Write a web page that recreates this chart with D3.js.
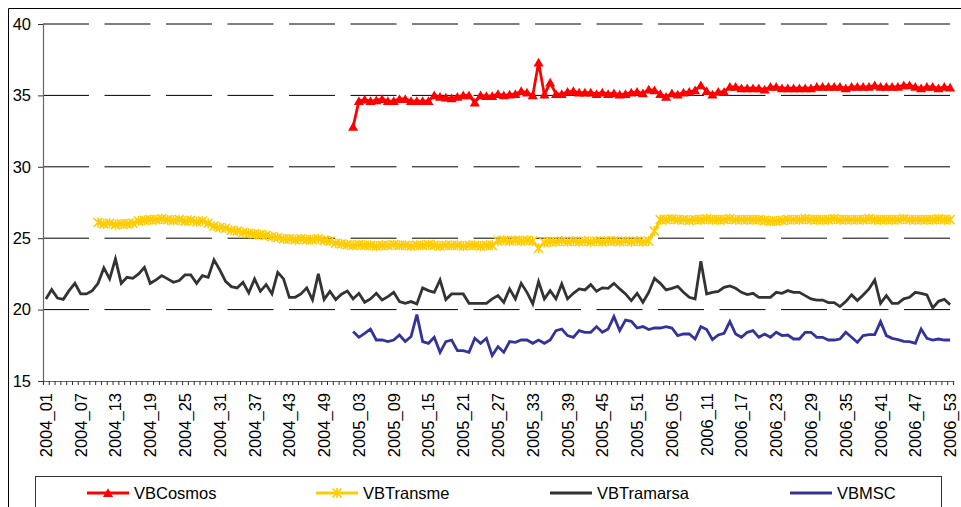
<!DOCTYPE html>
<html><head><meta charset="utf-8">
<script src="https://cdn.jsdelivr.net/npm/d3@7"></script>
<style>
html,body{margin:0;padding:0;background:#fff;}
svg text{font-family:"Liberation Sans",Arial,sans-serif;}
</style></head>
<body>
<svg id="chart" width="961" height="507"></svg>
<script>
// ---- data ----
const yearWeeks = [[2004, 52], [2005, 52], [2006, 53]];
const categories = [];
yearWeeks.forEach(([yr, n]) => { for (let w = 1; w <= n; w++) categories.push(yr + "_" + String(w).padStart(2, "0")); });

const tickLabels = ["2004_01","2004_07","2004_13","2004_19","2004_25","2004_31","2004_37","2004_43","2004_49",
  "2005_03","2005_09","2005_15","2005_21","2005_27","2005_33","2005_39","2005_45","2005_51",
  "2006_05","2006_11","2006_17","2006_23","2006_29","2006_35","2006_41","2006_47","2006_53"];

const yTicks = [15, 20, 25, 30, 35, 40];

const N9 = [null,null,null,null,null,null,null,null,null];
const N53 = Array(53).fill(null);

const VBCosmos = N53.concat([
  32.8,34.6,34.7,34.6,34.65,34.75,34.6,34.6,34.75,34.75,34.6,34.6,34.6,34.6,
  35.0,34.9,34.85,34.8,34.9,35.0,35.0,34.5,35.0,34.95,34.95,35.1,35.0,35.05,35.1,35.3,35.2,35.0,
  37.3,35.05,35.9,35.1,35.1,35.25,35.3,35.2,35.2,35.2,35.1,35.2,35.1,35.15,35.05,35.1,35.2,35.25,35.15,
  35.4,35.35,35.1,34.9,35.15,35.05,35.2,35.25,35.35,35.7,35.3,35.05,35.25,35.25,35.6,35.6,35.5,35.5,35.5,
  35.5,35.4,35.6,35.6,35.5,35.5,35.5,35.5,35.5,35.5,35.6,35.6,35.6,35.6,35.6,35.5,35.6,35.6,35.6,35.6,
  35.7,35.6,35.6,35.6,35.6,35.7,35.7,35.6,35.5,35.6,35.6,35.5,35.6,35.55]);

const VBTransme = N9.concat([
  26.1,26.0,26.05,25.95,26.0,26.0,26.05,26.2,26.25,26.3,26.3,26.35,26.3,26.25,26.3,26.2,26.25,26.15,26.2,
  26.05,25.85,25.75,25.7,25.55,25.5,25.4,25.35,25.3,25.25,25.2,25.1,25.05,24.95,24.95,24.9,24.95,24.9,24.9,24.95,
  24.85,24.8,24.65,24.6,24.55,24.5,24.55,24.5,24.5,24.45,24.5,24.5,24.55,24.5,24.5,24.45,24.5,24.5,24.55,24.5,
  24.45,24.5,24.5,24.5,24.45,24.5,24.5,24.45,24.5,24.5,24.8,24.85,24.8,24.85,24.8,24.85,24.8,24.3,24.7,24.75,
  24.75,24.8,24.75,24.8,24.75,24.8,24.75,24.8,24.75,24.8,24.8,24.75,24.8,24.75,24.8,24.75,24.8,25.5,26.3,
  26.3,26.35,26.3,26.3,26.25,26.3,26.3,26.35,26.3,26.3,26.3,26.35,26.3,26.3,26.3,26.3,26.3,26.25,26.2,26.2,
  26.25,26.3,26.3,26.3,26.35,26.3,26.3,26.3,26.3,26.35,26.3,26.3,26.3,26.3,26.3,26.35,26.3,26.3,26.3,26.3,
  26.3,26.35,26.3,26.3,26.3,26.3,26.3,26.35,26.3,26.3]);

const VBTramarsa = [
  20.74,21.40,20.81,20.72,21.33,21.84,21.10,21.10,21.33,21.84,22.92,22.15,23.55,21.84,22.26,22.19,22.50,22.96,
  21.84,22.08,22.38,22.15,21.91,22.03,22.43,22.43,21.84,22.38,22.26,23.48,22.78,21.98,21.61,21.52,21.91,21.17,
  22.15,21.28,21.75,21.10,22.61,22.15,20.86,20.86,21.10,21.52,20.68,22.50,20.72,21.28,20.70,21.08,21.30,
  20.75,21.14,20.51,20.75,21.14,20.67,20.91,21.21,20.56,20.44,20.56,20.40,21.52,21.33,21.21,22.08,20.70,21.10,
  21.10,21.10,20.44,20.44,20.44,20.44,20.75,20.98,20.51,21.45,20.75,21.84,21.21,20.40,21.96,20.75,21.33,20.75,
  21.80,20.75,21.14,21.45,21.38,21.75,21.28,21.52,21.49,21.84,21.45,21.10,20.63,21.14,20.51,21.20,
  22.19,21.84,21.38,21.49,21.63,21.21,20.86,20.75,23.38,21.10,21.21,21.28,21.56,21.66,21.49,21.21,21.05,21.14,
  20.86,20.86,20.86,21.21,21.14,21.33,21.21,21.21,20.98,20.75,20.67,20.67,20.49,20.49,20.21,20.56,21.03,20.63,
  21.03,21.45,22.08,20.44,20.98,20.44,20.44,20.75,20.86,21.21,21.14,21.03,20.11,20.58,20.72,20.35];

const VBMSC = N53.concat([
  18.46,18.06,18.34,18.64,17.87,17.87,17.76,17.87,18.22,17.76,18.11,19.65,17.76,17.64,18.06,17.01,17.76,17.87,
  17.13,17.13,17.01,17.99,17.64,17.99,16.78,17.41,17.01,17.76,17.71,17.87,17.87,17.64,17.87,17.64,17.87,18.53,
  18.64,18.18,18.06,18.53,18.41,18.41,18.81,18.41,18.64,19.51,18.53,19.27,19.18,18.71,18.81,18.60,
  18.71,18.71,18.81,18.71,18.18,18.29,18.29,17.94,18.81,18.60,17.90,18.22,18.34,19.16,18.29,18.06,18.41,18.53,
  18.06,18.29,18.06,18.41,18.18,18.22,17.94,17.94,18.41,18.41,18.06,18.06,17.87,17.87,17.94,18.41,18.06,17.71,
  18.18,18.25,18.25,19.16,18.18,17.99,17.90,17.78,17.76,17.64,18.64,17.99,17.87,17.94,17.87,17.87]);

const seriesNames = ["VBCosmos", "VBTransme", "VBTramarsa", "VBMSC"];
const seriesValues = [VBCosmos, VBTransme, VBTramarsa, VBMSC];
const seriesColors = ["#FF0000", "#FFCC00", "#333333", "#333399"];
const seriesMarkers = ["triangle", "star", null, null];

// ---- drawing ----
const svg = d3.select("#chart");
const x = d3.scaleBand().domain(categories).range([43, 953]).padding(0);
const cx = c => x(c) + x.bandwidth() / 2;
const y = d3.scaleLinear().domain([15, 40]).range([381, 24]);

// outer frame
svg.append("path").attr("d", "M8.5,507 L8.5,8.5 L961,8.5").attr("fill", "none").attr("stroke", "#000").attr("stroke-width", 1);

// gridlines
svg.append("g").selectAll("line").data(yTicks.filter(v => v > 15)).join("line")
  .attr("x1", 43).attr("x2", 953).attr("y1", d => y(d)).attr("y2", d => y(d))
  .attr("stroke", "#000").attr("stroke-width", 1).attr("stroke-dasharray", "46,15.5");

// y axis
const yAxis = svg.append("g").attr("transform", "translate(43,0)")
  .call(d3.axisLeft(y).tickValues(yTicks).tickSize(5).tickPadding(7).tickFormat(d3.format("d")));
yAxis.select(".domain").attr("stroke", "#666").attr("stroke-width", 1.2);
yAxis.selectAll(".tick line").attr("stroke", "#333");
yAxis.selectAll("text").attr("font-size", 16.5).attr("fill", "#000").attr("font-family", "Liberation Sans, Arial, sans-serif");

// x axis: ticks at every category boundary
const xb = d3.scaleLinear().domain([0, categories.length]).range([43, 953]);
const xAxis = svg.append("g").attr("transform", "translate(0,381)")
  .call(d3.axisBottom(xb).tickValues(d3.range(0, categories.length + 1)).tickSize(4).tickFormat(""));
xAxis.select(".domain").attr("stroke", "#666").attr("stroke-width", 1.2);
xAxis.selectAll(".tick line").attr("stroke", "#333");

// x labels
svg.append("g").selectAll("text").data(tickLabels).join("text")
  .attr("transform", d => `translate(${cx(d)},393) rotate(-90)`)
  .attr("text-anchor", "end").attr("dy", "0.36em")
  .attr("font-size", 16.5).attr("fill", "#000").text(d => d);

// lines
const starPath = "M-4.5,-4.5L4.5,4.5M-4.5,4.5L4.5,-4.5M0,-5L0,5";
const triSym = d3.symbol().type(d3.symbolTriangle).size(44);

seriesNames.forEach((name, si) => {
  const vals = seriesValues[si];
  const pts = categories.map((c, i) => ({c, v: vals[i]}));
  const line = d3.line().defined(d => d.v != null).x(d => cx(d.c)).y(d => y(d.v));
  const g = svg.append("g");
  g.append("path").datum(pts).attr("d", line).attr("fill", "none")
    .attr("stroke", seriesColors[si]).attr("stroke-width", 2.8).attr("stroke-linejoin", "miter");
  const valid = pts.filter(d => d.v != null);
  if (seriesMarkers[si] === "triangle") {
    g.selectAll("path.m").data(valid).join("path").attr("class", "m")
      .attr("d", triSym).attr("transform", d => `translate(${cx(d.c)},${y(d.v) + 1})`)
      .attr("fill", seriesColors[si]);
  } else if (seriesMarkers[si] === "star") {
    g.selectAll("path.m").data(valid).join("path").attr("class", "m")
      .attr("d", starPath).attr("transform", d => `translate(${cx(d.c)},${y(d.v)})`)
      .attr("fill", "none").attr("stroke", seriesColors[si]).attr("stroke-width", 1.6);
  }
});

// legend
svg.append("rect").attr("x", 35.5).attr("y", 476.5).attr("width", 906).attr("height", 60)
  .attr("fill", "#fff").attr("stroke", "#333").attr("stroke-width", 1);
const legendX = [87, 316, 550, 790];
seriesNames.forEach((name, si) => {
  const g = svg.append("g").attr("transform", `translate(${legendX[si]},493)`);
  g.append("line").attr("x1", 0).attr("x2", 42).attr("stroke", seriesColors[si]).attr("stroke-width", 2.8);
  if (seriesMarkers[si] === "triangle") {
    g.append("path").attr("d", triSym).attr("transform", "translate(21,1)").attr("fill", seriesColors[si]);
  } else if (seriesMarkers[si] === "star") {
    g.append("path").attr("d", starPath).attr("transform", "translate(21,0)")
      .attr("fill", "none").attr("stroke", seriesColors[si]).attr("stroke-width", 1.6);
  }
  g.append("text").attr("x", 47).attr("y", 5.5).attr("font-size", 16.5).attr("fill", "#000").text(name);
});
</script>
</body></html>
